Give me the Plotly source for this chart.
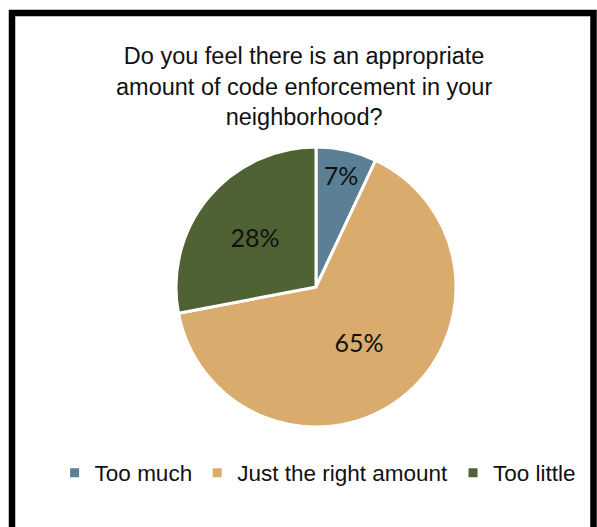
import plotly.graph_objects as go

categories = ["Too much", "Just the right amount", "Too little"]
values = [7, 65, 28]
colors = ["#5b7f95", "#d9ab6c", "#4f6233"]
title_lines = ["Do you feel there is an appropriate",
               "amount of code enforcement in your",
               "neighborhood?"]

W, H = 597, 527
sans = "Liberation Sans, Arial, sans-serif"

fig = go.Figure(go.Pie(
    labels=categories,
    values=values,
    sort=False,
    direction="clockwise",
    rotation=0,
    marker=dict(colors=colors, line=dict(color="white", width=3)),
    textinfo="percent",
    texttemplate="%{percent:.0%}",
    textposition="inside",
    insidetextorientation="horizontal",
    textfont=dict(family="Lato, Carlito, sans-serif", size=25, color="#111111"),
    domain=dict(x=[176 / W, 456 / W], y=[(H - 427) / H, (H - 147) / H]),
    hoverinfo="label+percent",
))

fig.update_layout(
    width=W, height=H,
    margin=dict(l=0, r=0, t=0, b=0),
    paper_bgcolor="white",
    showlegend=True,
    legend=dict(orientation="h", x=0.532, xanchor="center", y=1 - 473 / H, yanchor="middle",
                font=dict(family=sans, size=22.5, color="#111111"),
                itemwidth=30, tracegroupgap=0),
    annotations=[dict(text="<br>".join(title_lines), xref="paper", yref="paper",
                      x=304 / W, y=1 - 86 / H, xanchor="center", yanchor="middle",
                      showarrow=False, align="center",
                      font=dict(family=sans, size=23.5, color="#111111"))],
    shapes=[dict(type="rect", xref="paper", yref="paper",
                 x0=12 / W, x1=593.5 / W, y0=-20 / H, y1=1 - 13 / H,
                 line=dict(color="black", width=6.5), fillcolor="rgba(0,0,0,0)")],
)

fig.write_html("out.html")
